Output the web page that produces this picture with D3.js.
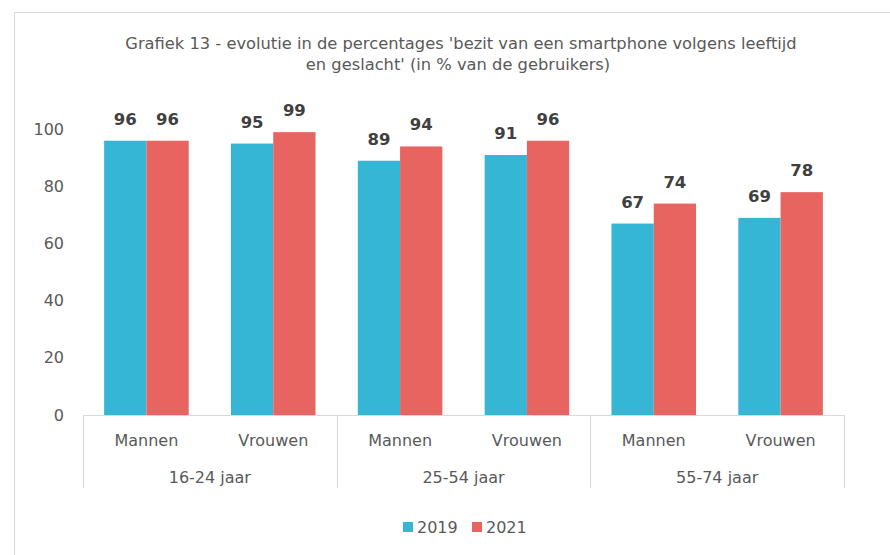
<!DOCTYPE html>
<html>
<head>
<meta charset="utf-8">
<script src="https://cdn.jsdelivr.net/npm/d3@7"></script>
<style>
    body { margin: 0; background: #fff; }
    svg text { font-family: 'DejaVu Sans', Verdana, sans-serif; }
</style>
</head>
<body>
<svg id="chart" width="890" height="555"></svg>
<script>
// chart data
const ageGroups = ['16-24 jaar', '25-54 jaar', '55-74 jaar'];
const genders = ['Mannen', 'Vrouwen'];
const years = ['2019', '2021'];
const values2019 = [96, 95, 89, 91, 67, 69];
const values2021 = [96, 99, 94, 96, 74, 78];
const yTicks = [0, 20, 40, 60, 80, 100];

const colors = {'2019': '#35b6d4', '2021': '#e86461'};
const textColor = '#595959';

const svg = d3.select('#chart');

// frame: top and left border only (picture is cropped)
svg.append('line')
    .attr('x1', 14).attr('x2', 890)
    .attr('y1', 12.5).attr('y2', 12.5)
    .attr('stroke', '#d9d9d9');
svg.append('line')
    .attr('x1', 14.5).attr('x2', 14.5)
    .attr('y1', 12).attr('y2', 555)
    .attr('stroke', '#d9d9d9');

// title
const title = svg.append('text')
    .attr('x', 461)
    .attr('text-anchor', 'middle')
    .attr('fill', textColor)
    .style('font-size', '16.3px');
title.append('tspan').attr('x', 461).attr('y', 49)
    .text("Grafiek 13 - evolutie in de percentages 'bezit van een smartphone volgens leeftijd");
title.append('tspan').attr('x', 458).attr('y', 70)
    .text("en geslacht' (in % van de gebruikers)");

const plotLeft = 83, plotRight = 844, plotTop = 129.3, plotBottom = 415;

const y = d3.scaleLinear().domain([0, 100]).range([plotBottom, plotTop]);

const xGroup = d3.scaleBand().domain(ageGroups).range([plotLeft, plotRight]).padding(0);
const xGender = d3.scaleBand().domain(genders).range([0, xGroup.bandwidth()]).padding(0);
const xYear = d3.scaleBand().domain(years)
    .range([xGender.bandwidth() / 6, xGender.bandwidth() * 5 / 6]).padding(0);

// flatten into rows
const rows = [];
ageGroups.forEach((g, gi) => {
    genders.forEach((s, si) => {
        const idx = gi * genders.length + si;
        rows.push({group: g, gender: s, year: '2019', value: values2019[idx]});
        rows.push({group: g, gender: s, year: '2021', value: values2021[idx]});
    });
});

const barX = (d) => xGroup(d.group) + xGender(d.gender) + xYear(d.year);

// y axis, labels only
const yAxis = svg.append('g')
    .attr('transform', `translate(${plotLeft},0)`)
    .call(d3.axisLeft(y).tickValues(yTicks).tickSize(0).tickPadding(19));
yAxis.select('.domain').remove();
yAxis.selectAll('text')
    .attr('fill', textColor)
    .style('font-size', '16px')
    .style('font-family', "'DejaVu Sans', Verdana, sans-serif");

// bars
svg.append('g')
  .selectAll('rect')
  .data(rows)
  .enter()
  .append('rect')
    .attr('x', barX)
    .attr('y', (d) => y(d.value))
    .attr('width', xYear.bandwidth())
    .attr('height', (d) => plotBottom - y(d.value))
    .attr('fill', (d) => colors[d.year]);

// value labels
svg.append('g')
  .selectAll('text')
  .data(rows)
  .enter()
  .append('text')
    .attr('x', (d) => barX(d) + xYear.bandwidth() / 2)
    .attr('y', (d) => y(d.value) - 16)
    .attr('text-anchor', 'middle')
    .attr('fill', '#404040')
    .style('font-size', '16.5px')
    .style('font-weight', 'bold')
    .text((d) => d.value);

// multi-level category axis
const axisG = svg.append('g');
axisG.append('line')
    .attr('x1', plotLeft).attr('x2', plotRight)
    .attr('y1', plotBottom + 0.5).attr('y2', plotBottom + 0.5)
    .attr('stroke', '#d9d9d9');
const seps = ageGroups.map((g) => xGroup(g)).concat([plotRight]);
axisG.selectAll('line.sep')
  .data(seps)
  .enter()
  .append('line')
    .classed('sep', true)
    .attr('x1', (d) => Math.round(d) + 0.5)
    .attr('x2', (d) => Math.round(d) + 0.5)
    .attr('y1', plotBottom)
    .attr('y2', 488)
    .attr('stroke', '#d9d9d9');

ageGroups.forEach((g) => {
    genders.forEach((s) => {
        axisG.append('text')
            .attr('x', xGroup(g) + xGender(s) + xGender.bandwidth() / 2)
            .attr('y', 446)
            .attr('text-anchor', 'middle')
            .attr('fill', textColor)
            .style('font-size', '16px')
            .text(s);
    });
    axisG.append('text')
        .attr('x', xGroup(g) + xGroup.bandwidth() / 2)
        .attr('y', 483)
        .attr('text-anchor', 'middle')
        .attr('fill', textColor)
        .style('font-size', '16px')
        .text(g);
});

// legend
const legendX = [403, 472];
const legend = svg.append('g');
years.forEach((yr, i) => {
    legend.append('rect')
        .attr('x', legendX[i])
        .attr('y', 522)
        .attr('width', 10)
        .attr('height', 10)
        .attr('fill', colors[yr]);
    legend.append('text')
        .attr('x', legendX[i] + 14)
        .attr('y', 533)
        .attr('fill', textColor)
        .style('font-size', '16px')
        .text(yr);
});
</script>
</body>
</html>
